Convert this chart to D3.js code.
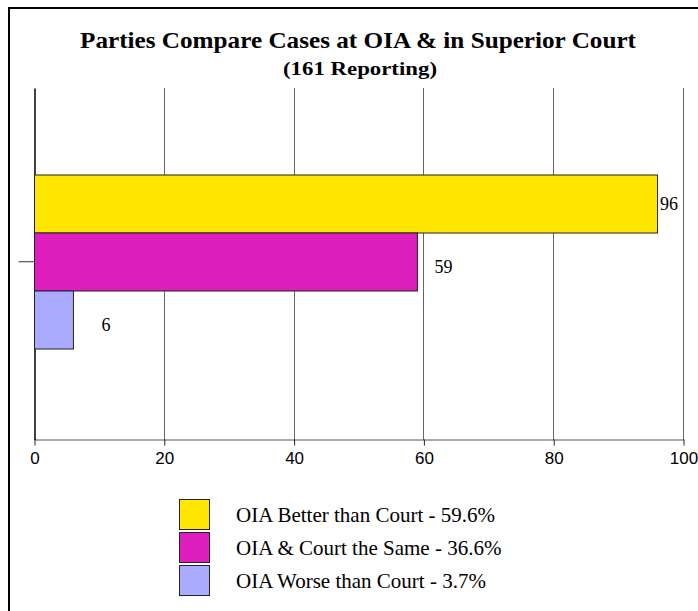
<!DOCTYPE html>
<html><head><meta charset="utf-8">
<script src="https://cdn.jsdelivr.net/npm/d3@7"></script>
<style>body{margin:0;background:#fff}svg{display:block}</style>
</head><body><svg id="c" width="698" height="611"></svg>
<script>
const categories = ["OIA Better than Court", "OIA & Court the Same", "OIA Worse than Court"];
const values = [96, 59, 6];
const percents = ["59.6%", "36.6%", "3.7%"];
const colors = ["#FFE600", "#DF1EC0", "#AAAAFF"];
const labelOffsets = [2.5, 17, 28];
const xTicks = [0, 20, 40, 60, 80, 100];
const title = "Parties Compare Cases at OIA & in Superior Court";
const subtitle = "(161 Reporting)";

const SERIF = "'Liberation Serif', 'Times New Roman', serif";
const SANS = "'Liberation Sans', Arial, sans-serif";

const svg = d3.select("#c");
// outer frame
svg.append("rect").attr("x", 9).attr("y", 8).attr("width", 720).attr("height", 640)
  .attr("fill", "none").attr("stroke", "#000").attr("stroke-width", 2);

const pLeft = 34.5, pRight = 683.5, pTop = 88, pBottom = 439.5;
const x = d3.scaleLinear().domain([0, 100]).range([pLeft, pRight]);
const y0 = d3.scaleBand().domain(["g"]).range([pTop, pBottom]);
const y = d3.scaleBand().domain(categories).range([175, 349]).paddingInner(0);

// gridlines
svg.append("g").selectAll("line").data(xTicks.slice(1)).join("line")
  .attr("x1", d => x(d)).attr("x2", d => x(d)).attr("y1", pTop).attr("y2", pBottom)
  .attr("stroke", "#666").attr("stroke-width", 1).attr("shape-rendering", "crispEdges");

// bottom axis
const xAxis = d3.axisBottom(x).tickValues(xTicks).tickSize(6).tickSizeOuter(0).tickPadding(6);
const gx = svg.append("g").attr("transform", `translate(0,${pBottom})`).call(xAxis);
gx.select(".domain").attr("stroke", "#555");
gx.selectAll(".tick line").attr("stroke", "#222");
gx.selectAll("text").attr("font-family", SANS).attr("font-size", 17).attr("fill", "#000");

// left axis
const yAxis = d3.axisLeft(y0).tickSize(16).tickFormat("").tickSizeOuter(0);
const gy = svg.append("g").attr("transform", `translate(${pLeft},0)`).call(yAxis);
gy.select(".domain").attr("stroke", "#000").attr("stroke-width", 1.5);
gy.selectAll(".tick line").attr("stroke", "#333").attr("transform", "translate(0,-2)");

// bars
svg.append("g").selectAll("rect").data(values).join("rect")
  .attr("x", x(0)).attr("y", (d, i) => y(categories[i]))
  .attr("width", d => x(d) - x(0)).attr("height", y.bandwidth())
  .attr("fill", (d, i) => colors[i]).attr("stroke", "#222").attr("stroke-width", 1);

// value labels
svg.append("g").selectAll("text").data(values).join("text")
  .attr("x", (d, i) => x(d) + labelOffsets[i])
  .attr("y", (d, i) => y(categories[i]) + y.bandwidth() / 2 + (i === 0 ? 0 : 5))
  .attr("dy", "0.35em")
  .attr("font-family", SERIF).attr("font-size", 18)
  .text(d => d);

// title
svg.append("text").attr("x", 358).attr("y", 47.5).attr("text-anchor", "middle")
  .attr("font-family", SERIF).attr("font-weight", "bold")
  .attr("font-size", 22.5).attr("textLength", 556).attr("lengthAdjust", "spacingAndGlyphs").text(title);
svg.append("text").attr("x", 360).attr("y", 75).attr("text-anchor", "middle")
  .attr("font-family", SERIF).attr("font-weight", "bold")
  .attr("font-size", 18.5).attr("textLength", 154).attr("lengthAdjust", "spacingAndGlyphs").text(subtitle);

// legend
const lg = svg.append("g");
categories.forEach((c, i) => {
  const yy = 499.5 + i * 33;
  lg.append("rect").attr("x", 179.5).attr("y", yy).attr("width", 30).attr("height", 30)
    .attr("fill", colors[i]).attr("stroke", "#222").attr("stroke-width", 1);
  lg.append("text").attr("x", 236).attr("y", yy + 15).attr("dy", "0.35em")
    .attr("font-family", SERIF).attr("font-size", 21)
    .text(`${c} - ${percents[i]}`);
});
</script></body></html>
